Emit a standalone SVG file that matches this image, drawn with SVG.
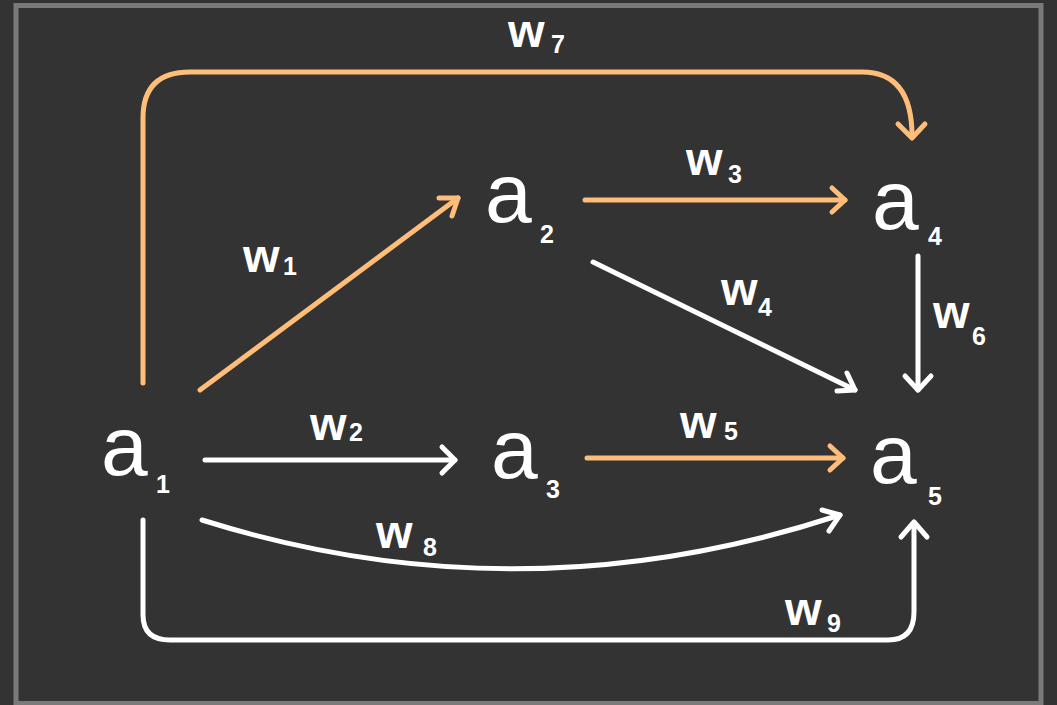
<svg xmlns="http://www.w3.org/2000/svg" width="1057" height="705" viewBox="0 0 1057 705">
<defs>
<style>
.bg{fill:#333333}
.frame{fill:none;stroke:#7a7a7a;stroke-width:5}
.e{fill:none;stroke-width:5;stroke-linecap:round;stroke-linejoin:round}
.o{stroke:#ffbd7a}
.w{stroke:#ffffff}
.n{font-family:"Liberation Sans",Arial,sans-serif;font-size:84px;fill:#ffffff}
.l{font-family:"Liberation Sans",Arial,sans-serif;font-size:47px;font-weight:bold;fill:#ffffff}
.s{font-family:"Liberation Sans",Arial,sans-serif;font-size:25px;font-weight:bold;fill:#ffffff}
</style>
</defs>
<rect class="bg" x="0" y="0" width="1057" height="705"/>
<rect class="frame" x="16" y="5.5" width="1025" height="698"/>
<g id="connectors">
<g id="e-w7">
<path class="e o" d="M143,383 V118 Q143,72 190,72 H862 Q912,72 912,136"/>
<path class="e o" d="M898,124 L912,138 L925,124"/>
</g>
<g id="e-w1">
<path class="e o" d="M200,390 L458,198"/>
<path class="e o" d="M439,198 L458,198 L452,216"/>
</g>
<g id="e-w3">
<path class="e o" d="M585,200 H845"/>
<path class="e o" d="M832,188 L845,200 L832,212"/>
</g>
<g id="e-w4">
<path class="e w" d="M593,262 L855,390"/>
<path class="e w" d="M837,391 L855,390 L847,373"/>
</g>
<g id="e-w6">
<path class="e w" d="M918,256 V390"/>
<path class="e w" d="M905,376 L918,390 L931,376"/>
</g>
<g id="e-w2">
<path class="e w" d="M205,460 H455"/>
<path class="e w" d="M442,447 L455,460 L442,473"/>
</g>
<g id="e-w5">
<path class="e o" d="M587,458 H843"/>
<path class="e o" d="M830,446 L843,458 L830,470"/>
</g>
<g id="e-w8">
<path class="e w" d="M202,520 Q520,620 840,515"/>
<path class="e w" d="M822,510 L840,515 L829,531"/>
</g>
<g id="e-w9">
<path class="e w" d="M143,520 V615 Q143,640 170,640 H888 Q914,640 914,612 V524"/>
<path class="e w" d="M901,537 L914,522 L927,537"/>
</g>
</g>
<g id="node-a1"><text class="n" x="101" y="475">a</text><text class="s" x="156" y="493">1</text></g>
<g id="node-a2"><text class="n" x="485" y="222">a</text><text class="s" x="540" y="243">2</text></g>
<g id="node-a3"><text class="n" x="491" y="478">a</text><text class="s" x="546" y="498">3</text></g>
<g id="node-a4"><text class="n" x="872" y="229">a</text><text class="s" x="928" y="245">4</text></g>
<g id="node-a5"><text class="n" x="870" y="483">a</text><text class="s" x="928" y="505">5</text></g>
<g id="labels">
<g id="l-w7"><text class="l" x="508" y="47">w</text><text class="s" x="551" y="53">7</text></g>
<g id="l-w1"><text class="l" x="243" y="272">w</text><text class="s" x="283" y="275">1</text></g>
<g id="l-w3"><text class="l" x="686" y="175">w</text><text class="s" x="728" y="183">3</text></g>
<g id="l-w4"><text class="l" x="721" y="305">w</text><text class="s" x="758" y="316">4</text></g>
<g id="l-w6"><text class="l" x="933" y="328">w</text><text class="s" x="972" y="345">6</text></g>
<g id="l-w2"><text class="l" x="310" y="440">w</text><text class="s" x="349" y="441">2</text></g>
<g id="l-w5"><text class="l" x="680" y="438">w</text><text class="s" x="724" y="440">5</text></g>
<g id="l-w8"><text class="l" x="376" y="548">w</text><text class="s" x="423" y="556">8</text></g>
<g id="l-w9"><text class="l" x="785" y="625">w</text><text class="s" x="827" y="632">9</text></g>
</g>
</svg>
